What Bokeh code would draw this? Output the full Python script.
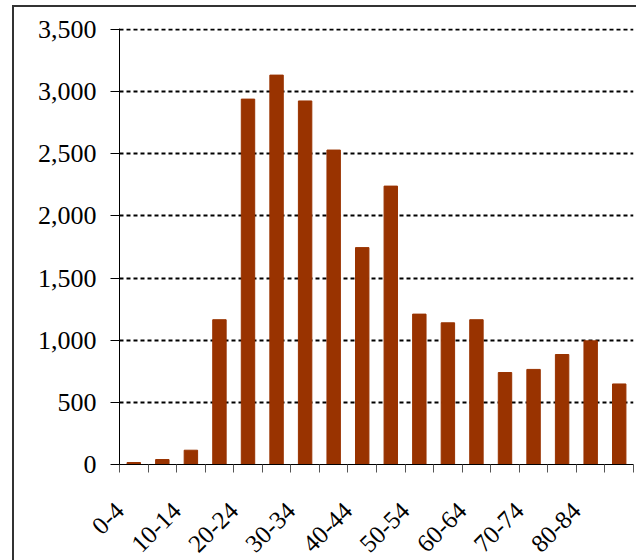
import math
from bokeh.plotting import figure
from bokeh.models import (ColumnDataSource, FixedTicker, NumeralTickFormatter,
                          Range1d)
from bokeh.embed import file_html
from bokeh.resources import INLINE

age_groups = ["0-4", "5-9", "10-14", "15-19", "20-24", "25-29", "30-34", "35-39",
              "40-44", "45-49", "50-54", "55-59", "60-64", "65-69", "70-74",
              "75-79", "80-84", "85+"]
counts = [16, 40, 115, 1165, 2940, 3133, 2925, 2530, 1745, 2240, 1210, 1140,
          1165, 740, 765, 885, 995, 648]
y_ticks = [0, 500, 1000, 1500, 2000, 2500, 3000, 3500]

BAR_COLOR = "#993300"
FONT = "Liberation Serif"

n = len(age_groups)
src = ColumnDataSource(dict(
    x=[i + 0.5 for i in range(n)],
    top=counts,
    label=age_groups,
))

# figure placed at (12,5) with a left/top border like the chart-area border
p = figure(width=624, height=555, output_backend="svg", toolbar_location=None,
           x_range=Range1d(0, n), y_range=Range1d(0, 3508),
           min_border_left=105, min_border_right=5, min_border_top=21,
           min_border_bottom=95,
           styles={"margin-left": "12px", "margin-top": "5px",
                   "border-left": "2px solid #333333",
                   "border-top": "2px solid #333333"})

p.vbar(x="x", top="top", width=0.47, source=src, color=BAR_COLOR)

# y axis
p.yaxis.ticker = FixedTicker(ticks=y_ticks)
p.yaxis.formatter = NumeralTickFormatter(format="0,0")
p.yaxis.major_label_text_font = FONT
p.yaxis.major_label_text_font_size = "26px"
p.yaxis.major_label_text_color = "black"
p.yaxis.major_tick_in = 0
p.yaxis.major_tick_out = 9
p.yaxis.minor_tick_line_color = None
p.yaxis.axis_line_color = "black"
p.yaxis.major_tick_line_color = "black"
p.yaxis.major_label_standoff = 14

# x axis: ticks at category boundaries, labels on every other category
p.xaxis.ticker = FixedTicker(ticks=list(range(n + 1)))
overrides = {}
for i in range(n + 1):
    overrides[i] = age_groups[i] if (i < n and i % 2 == 0) else ""
p.xaxis.major_label_overrides = overrides
p.xaxis.major_label_orientation = math.pi / 4
p.xaxis.major_label_text_font = FONT
p.xaxis.major_label_text_font_size = "25px"
p.xaxis.major_label_text_color = "black"
p.xaxis.major_tick_in = 0
p.xaxis.major_tick_out = 8
p.xaxis.minor_tick_line_color = None
p.xaxis.axis_line_color = "black"
p.xaxis.major_tick_line_color = "#555555"
p.xaxis.major_label_standoff = 34

# grid
p.xgrid.grid_line_color = None
p.ygrid.ticker = FixedTicker(ticks=y_ticks[1:])
p.ygrid.grid_line_color = "black"
p.ygrid.grid_line_width = 2
p.ygrid.grid_line_dash = "4 3"

p.outline_line_color = None
p.background_fill_color = "white"
p.border_fill_color = "white"

open("out.html", "w").write(file_html(p, INLINE))
